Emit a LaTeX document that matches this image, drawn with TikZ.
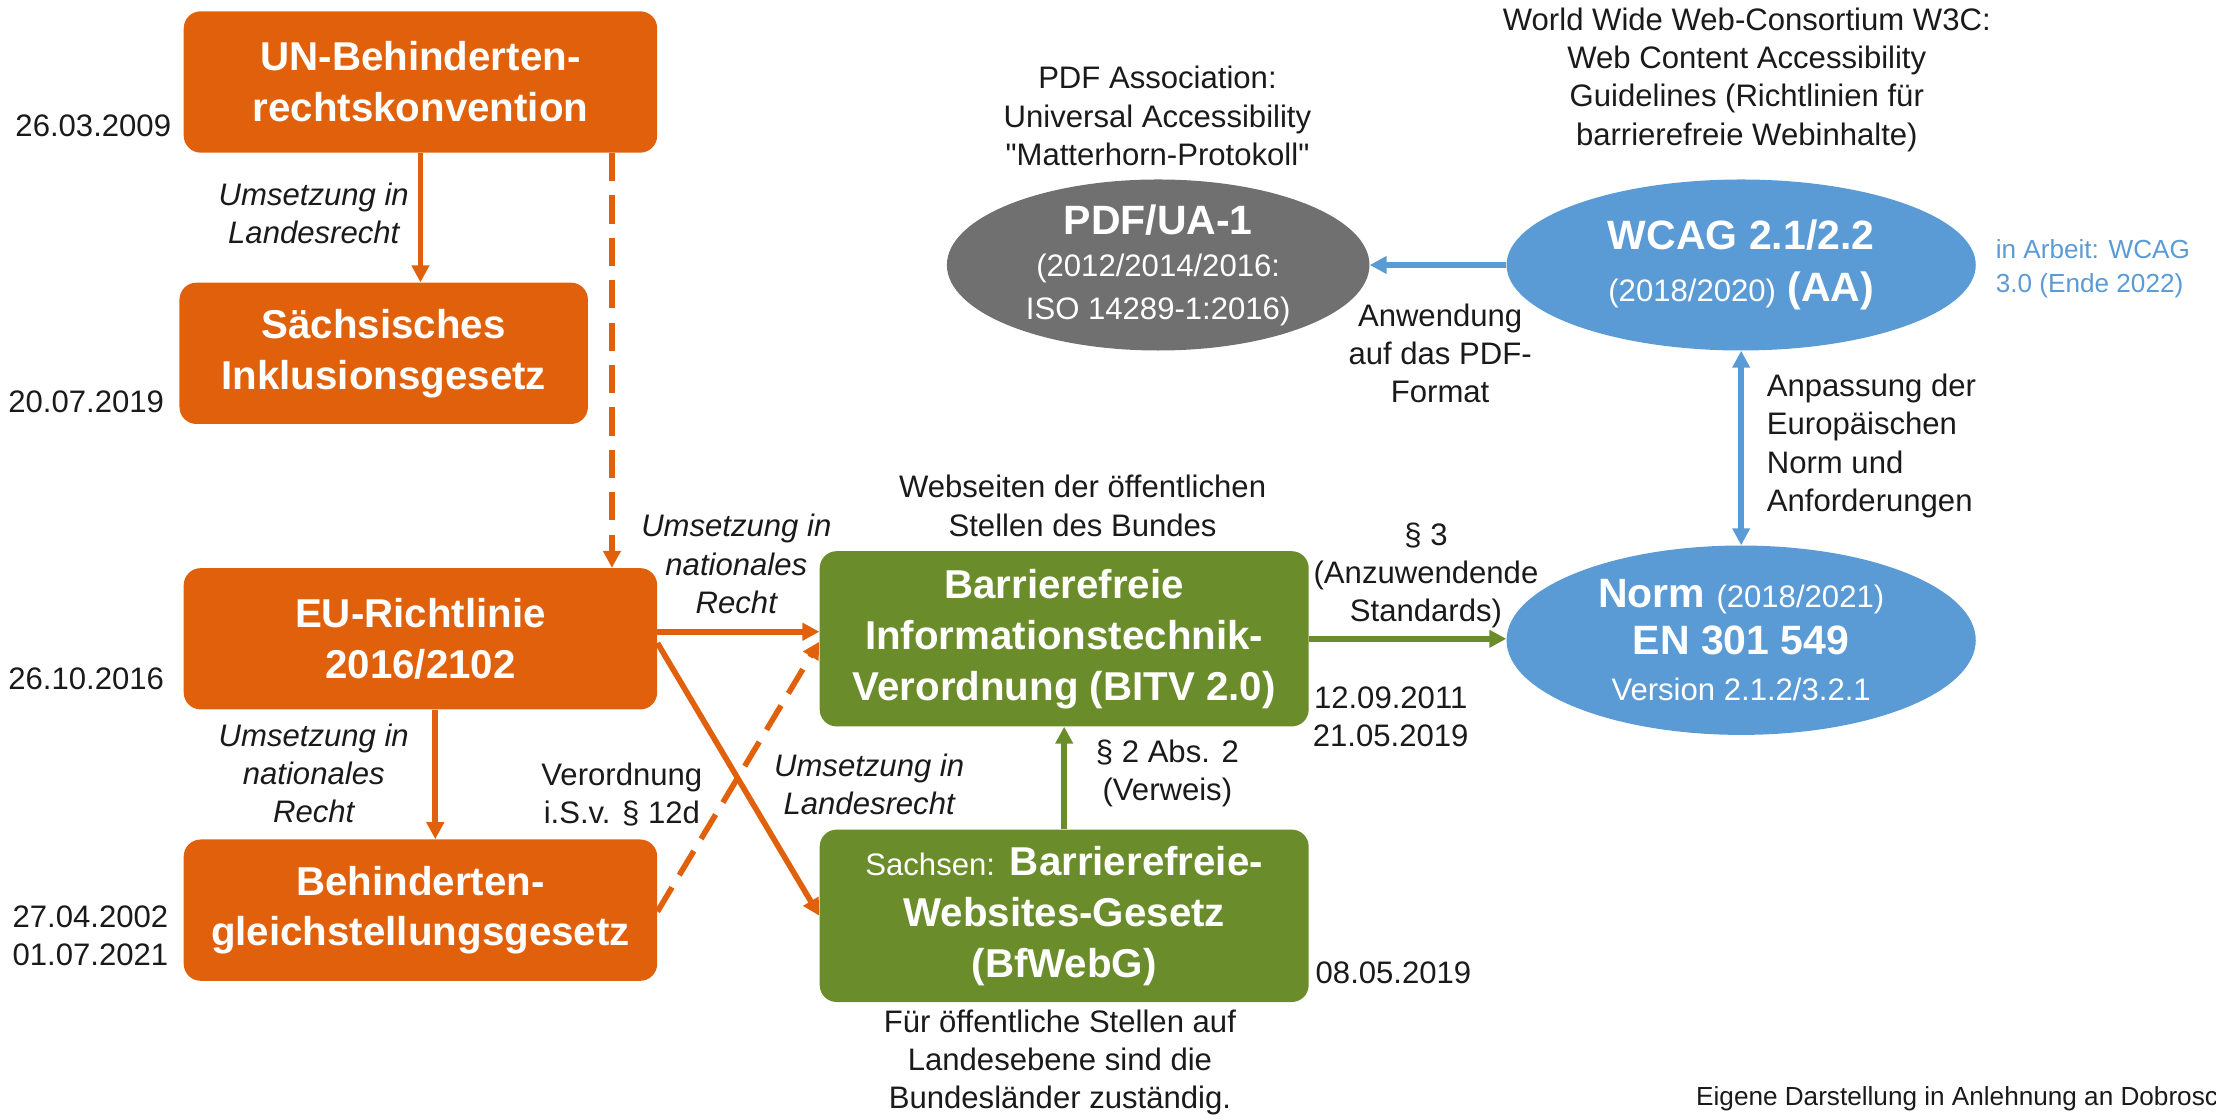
\documentclass[tikz,border=0pt]{standalone}
\usepackage{fontspec}
\setmainfont{Liberation Sans}[Ligatures=TeXOff]
\usetikzlibrary{arrows.meta,shapes.geometric}
\definecolor{orng}{HTML}{E0600B}
\definecolor{grn}{HTML}{6B8C2A}
\definecolor{blu}{HTML}{5B9BD5}
\definecolor{gry}{HTML}{707070}
\definecolor{txt}{HTML}{1A1A1A}
\newcommand{\nsz}{\fontsize{22}{27}\selectfont}
\newcommand{\bsz}{\fontsize{28.5}{36}\selectfont\bfseries}
\begin{document}
\begin{tikzpicture}[x=1pt,y=-1pt,
  box/.style={rounded corners=12pt, text=white, align=center, inner sep=0pt, font=\bsz},
  ell/.style={ellipse, text=white, align=center, inner sep=0pt},
  lbl/.style={inner sep=0pt, align=center, text=txt, font=\nsz},
  ilbl/.style={inner sep=0pt, align=center, text=txt, font=\nsz\itshape},
  arr/.style={line width=4pt, -{Triangle[length=12pt,width=12pt]}},
  dsh/.style={dash pattern=on 20pt off 10pt}]
\useasboundingbox (0,0) rectangle (1568,792);

% boxes
\node[box, fill=orng, minimum width=335pt, minimum height=100pt] (un) at (297.5,58) {UN-Behinderten-\\rechtskonvention};
\node[box, fill=orng, minimum width=289pt, minimum height=100pt] (sa) at (271.5,250) {Sächsisches\\Inklusionsgesetz};
\node[box, fill=orng, minimum width=335pt, minimum height=100pt] (eu) at (297.5,452) {EU-Richtlinie\\2016/2102};
\node[box, fill=orng, minimum width=335pt, minimum height=100pt] (bgg) at (297.5,644) {Behinderten-\\gleichstellungsgesetz};
\node[box, fill=grn, minimum width=346pt, minimum height=124pt] (bitv) at (753,452) {Barrierefreie\\Informationstechnik-\\Verordnung (BITV 2.0)};
\node[box, fill=grn, minimum width=346pt, minimum height=122pt] (bf) at (753,648) {{\mdseries\nsz Sachsen:} Barrierefreie-\\Websites-Gesetz\\(BfWebG)};

% ellipses
\node[ell, fill=blu, minimum width=332pt, minimum height=134pt, font=\fontsize{29}{33}\selectfont] (norm) at (1232,453) {\textbf{Norm} {\nsz(2018/2021)}\\\textbf{EN 301 549}\\{\nsz Version 2.1.2/3.2.1}};
\node[ell, fill=blu, minimum width=332pt, minimum height=121pt, font=\fontsize{29}{37}\selectfont] (wcag) at (1232,187.5) {\textbf{WCAG 2.1/2.2}\\{\nsz (2018/2020)} \textbf{(AA)}};
\node[ell, fill=gry, minimum width=299pt, minimum height=121pt, font=\fontsize{29}{30}\selectfont] (pdf) at (819.5,187.5) {\textbf{PDF/UA-1}\\{\nsz (2012/2014/2016:}\\{\nsz ISO 14289-1:2016)}};

% connectors
\draw[arr, orng] (un.south) -- (un.south |- sa.north);
\draw[arr, orng, dsh] ([xshift=135.5pt]un.south) -- ([xshift=135.5pt]eu.north);
\draw[arr, orng] ([xshift=10.5pt]eu.south) -- ([xshift=10.5pt]bgg.north);
\draw[arr, orng] ([yshift=5pt]eu.east) -- ([yshift=5pt]bitv.west);
\draw[arr, orng] ([yshift=-3pt]eu.east) -- (bf.west);
\draw[arr, orng, dsh] ([yshift=-1pt]bgg.east) -- ([yshift=-2pt]bitv.west);
\draw[arr, grn] (bf.north) -- (bitv.south);
\draw[arr, grn] (bitv.east) -- (bitv.east -| norm.west);
\draw[arr, blu] (wcag.west) -- (pdf.east);
\draw[line width=4pt, blu, {Triangle[length=12pt,width=12pt]}-{Triangle[length=12pt,width=12pt]}] (wcag.south) -- (norm.north);

% dates
\node[lbl] (d1) at (66,89) {26.03.2009};
\node[lbl] (d2) at (61,284) {20.07.2019};
\node[lbl] (d3) at (61,480) {26.10.2016};
\node[lbl] (d4) at (64,662) {27.04.2002\\01.07.2021};
\node[lbl] (d5) at (984,507) {12.09.2011\\21.05.2019};
\node[lbl] (d6) at (986,688) {08.05.2019};

% connector labels
\node[ilbl] (l1) at (222,151) {Umsetzung in\\Landesrecht};
\node[ilbl] (l2) at (222,547) {Umsetzung in\\nationales\\Recht};
\node[ilbl] (l3) at (521,399) {Umsetzung in\\nationales\\Recht};
\node[lbl] (l4) at (440,562) {Verordnung\\i.S.v. § 12d};
\node[ilbl] (l5) at (615,555) {Umsetzung in\\Landesrecht};
\node[lbl] (l6) at (826,547) {§ 2 Abs. 2\\(Verweis)};
\node[lbl] (l7) at (1009,407) {§ 3\\(Anzuwendende\\Standards)};
\node[lbl] (l8) at (1019,250) {Anwendung\\auf das PDF-\\Format};
\node[lbl, align=left, anchor=west] (l9) at (1250,315.5) {Anpassung der\\Europäischen\\Norm und\\Anforderungen};

% annotations
\node[lbl] (t1) at (766,358) {Webseiten der öffentlichen\\Stellen des Bundes};
\node[lbl] (t2) at (750,752) {Für öffentliche Stellen auf\\Landesebene sind die\\Bundesländer zuständig.};
\node[lbl] (t3) at (819,82) {PDF Association:\\Universal Accessibility\\"Matterhorn-Protokoll"};
\node[lbl] (t4) at (1236,56.5) {World Wide Web-Consortium W3C:\\Web Content Accessibility\\Guidelines (Richtlinien für\\barrierefreie Webinhalte)};
\node[lbl, align=left, anchor=west, text=blu, font=\fontsize{18.5}{24}\selectfont] (t5) at (1412,190) {in Arbeit: WCAG\\3.0 (Ende 2022)};
\node[lbl, anchor=base west, font=\fontsize{18.5}{24}\selectfont] (t6) at (1200,782) {Eigene Darstellung in Anlehnung an Dobrosch};
\end{tikzpicture}
\end{document}
